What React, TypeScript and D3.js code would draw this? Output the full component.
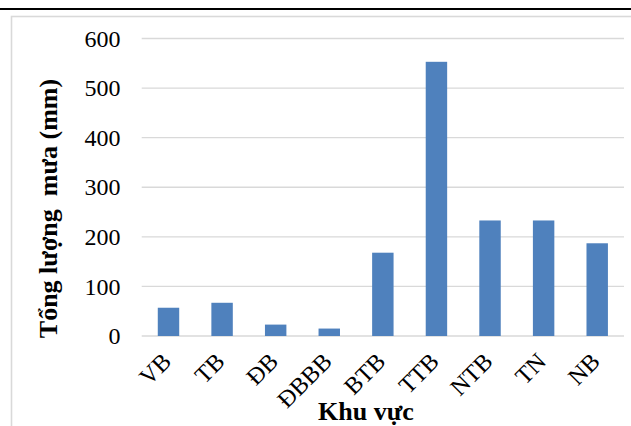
import React from "react";
import * as d3 from "d3";

const categories: string[] = ["VB", "TB", "ĐB", "ĐBBB", "BTB", "TTB", "NTB", "TN", "NB"];
const rainfall: number[] = [57, 67, 23, 15, 168, 553, 233, 233, 187];
const yTicks: number[] = [0, 100, 200, 300, 400, 500, 600];
const yTitle = "Tổng lượng  mưa (mm)";
const xTitle = "Khu vực";

const W = 631;
const H = 426;
const FONT = "'Times New Roman', 'Liberation Serif', serif";

export default function App() {
  const x = d3
    .scaleBand<string>()
    .domain(categories)
    .range([141.7, 624])
    .paddingInner(0.6)
    .paddingOuter(0.3);
  const y = d3.scaleLinear().domain([0, 600]).range([336, 38.5]);

  return (
    <div style={{ position: "fixed", left: 0, top: 0 }}>
      <svg width={W} height={H} style={{ display: "block", background: "#fff" }}>
        <rect x={0} y={8} width={W} height={2} fill="#000" />
        <rect x={11.5} y={16.5} width={W + 10} height={H + 10} fill="none" stroke="#d9d9d9" strokeWidth={1.6} />
        {yTicks.map((t) => (
          <g key={t}>
            <line x1={141.7} x2={624} y1={y(t)} y2={y(t)} stroke="#d9d9d9" strokeWidth={1.4} />
            <text
              x={120.5}
              y={y(t)}
              dy="0.34em"
              textAnchor="end"
              fontFamily={FONT}
              fontSize={24}
              fill="#000"
            >
              {t}
            </text>
          </g>
        ))}
        {categories.map((c, i) => (
          <rect
            key={c}
            x={x(c)}
            y={y(rainfall[i])}
            width={x.bandwidth()}
            height={y(0) - y(rainfall[i])}
            fill="#4f81bd"
          />
        ))}
        {categories.map((c) => {
          const cx = (x(c) as number) + x.bandwidth() / 2;
          return (
            <text
              key={c}
              transform={`translate(${cx + 4},${363}) rotate(-45)`}
              textAnchor="end"
              fontFamily={FONT}
              fontSize={24}
              fill="#000"
            >
              {c}
            </text>
          );
        })}
        <text
          transform={`translate(57,208.5) rotate(-90)`}
          textAnchor="middle"
          fontFamily={FONT}
          fontSize={26}
          fontWeight="bold"
          fill="#000"
          style={{ whiteSpace: "pre" }}
        >
          {yTitle}
        </text>
        <text
          x={366}
          y={420}
          textAnchor="middle"
          fontFamily={FONT}
          fontSize={26}
          fontWeight="bold"
          fill="#000"
        >
          {xTitle}
        </text>
      </svg>
    </div>
  );
}
